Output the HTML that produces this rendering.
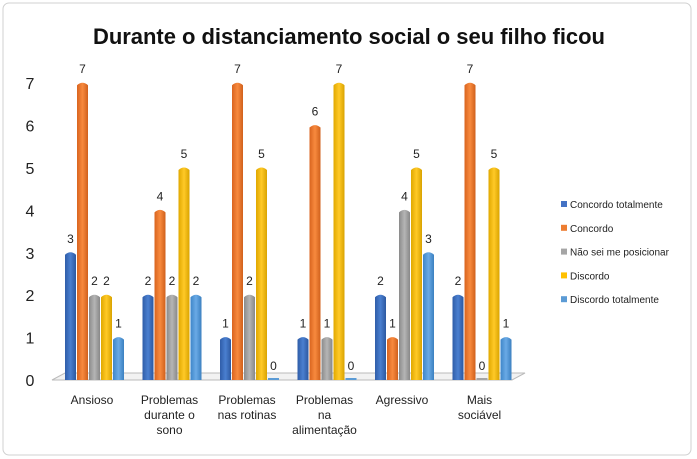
<!DOCTYPE html>
<html><head><meta charset="utf-8"><style>
body{margin:0;background:#fff;}
svg{display:block;font-family:"Liberation Sans",sans-serif;}
</style></head><body>
<svg width="697" height="459" viewBox="0 0 697 459">
<defs>
<linearGradient id="g0" x1="0" x2="1"><stop offset="0" stop-color="#2f5da8"/><stop offset="0.5" stop-color="#4a7fd0"/><stop offset="1" stop-color="#2c58a0"/></linearGradient>
<linearGradient id="g1" x1="0" x2="1"><stop offset="0" stop-color="#d9641f"/><stop offset="0.5" stop-color="#f88a3e"/><stop offset="1" stop-color="#d0601c"/></linearGradient>
<linearGradient id="g2" x1="0" x2="1"><stop offset="0" stop-color="#8a8a8a"/><stop offset="0.5" stop-color="#b5b5b5"/><stop offset="1" stop-color="#888"/></linearGradient>
<linearGradient id="g3" x1="0" x2="1"><stop offset="0" stop-color="#e0a800"/><stop offset="0.5" stop-color="#ffc927"/><stop offset="1" stop-color="#d9a300"/></linearGradient>
<linearGradient id="g4" x1="0" x2="1"><stop offset="0" stop-color="#3f86c8"/><stop offset="0.5" stop-color="#6aaae6"/><stop offset="1" stop-color="#3b80c0"/></linearGradient>
</defs>
<rect x="3" y="3" width="688" height="452" rx="6" fill="#fff" stroke="#d0d0d0"/>
<text x="349" y="44" text-anchor="middle" font-size="22" font-weight="bold" fill="#111" textLength="512">Durante o distanciamento social o seu filho ficou</text>
<polygon points="52,380 65,373 525,373 512,380" fill="#f2f2f2" stroke="#bbb"/>
<g id="yaxis"></g>
<g id="bars"></g>
<g id="legend"></g>
</svg>
<script>
const categories=[["Ansioso"],["Problemas","durante o","sono"],["Problemas","nas rotinas"],["Problemas","na","alimentação"],["Agressivo"],["Mais","sociável"]];
const seriesNames=["Concordo totalmente","Concordo","Não sei me posicionar","Discordo","Discordo totalmente"];
const s0=[3,2,1,1,2,2];
const s1=[7,4,7,6,1,7];
const s2=[2,2,2,1,4,0];
const s3=[2,5,5,7,5,5];
const s4=[1,2,0,0,3,1];
const yTicks=[0,1,2,3,4,5,6,7];
const series=[s0,s1,s2,s3,s4];
const colors=["#4472c4","#ed7d31","#a5a5a5","#ffc000","#5b9bd5"];
const NS="http://www.w3.org/2000/svg";
const y=v=>380-v*42.4;
const cx=i=>95+i*77.5;
function mk(t,a,p){const e=document.createElementNS(NS,t);for(const k in a)e.setAttribute(k,a[k]);p.appendChild(e);return e;}
const ya=document.getElementById('yaxis');
yTicks.forEach(v=>{const t=mk('text',{x:30,y:y(v)+6,'text-anchor':'middle','font-size':16,fill:'#222'},ya);t.textContent=v;

});
const bg=document.getElementById('bars');
categories.forEach((c,i)=>{
 series.forEach((s,j)=>{
  const x=cx(i)-30+j*12, v=s[i], w=11;
  const top=y(v);
  if(v>0){
   const r=mk('path',{d:`M${x},380 L${x},${top+2} Q${x+w/2},${top-3} ${x+w},${top+2} L${x+w},380 Z`,fill:`url(#g${j})`},bg);
   
   
  } else {
   const r=mk('rect',{x:x,y:378,width:w,height:2,fill:colors[j]},bg);
   
   
  }
  const l=mk('text',{x:x+w/2,y:top-10,'text-anchor':'middle','font-size':12,fill:'#222'},bg);l.textContent=v;
  
  
 });
 c.forEach((line,k)=>{const t=mk('text',{x:cx(i)-3,y:404+k*15,'text-anchor':'middle','font-size':12,fill:'#222'},bg);t.textContent=line;
 
 });
});
const lg=document.getElementById('legend');
seriesNames.forEach((n,j)=>{const yy=208+j*23.8;
 const r=mk('rect',{x:561,y:yy-7,width:6,height:6,fill:colors[j]},lg);
 
 
 const t=mk('text',{x:570,y:yy,'font-size':10,fill:'#222'},lg);t.textContent=n;
 
 });
</script>
</body></html>
